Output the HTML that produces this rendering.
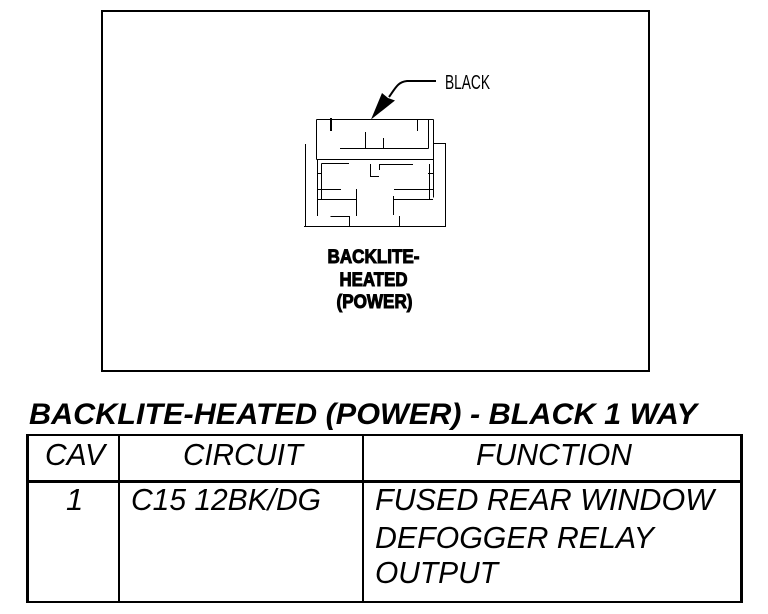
<!DOCTYPE html>
<html>
<head>
<meta charset="utf-8">
<style>
html,body{margin:0;padding:0;background:#fff;width:768px;height:614px;overflow:hidden}
svg{display:block}
text{font-family:"Liberation Sans",sans-serif;fill:#000}
.t{font-style:italic;font-size:31px}
.l{font-weight:bold;font-size:19px;stroke:#000;stroke-width:1}
</style>
</head>
<body>
<svg width="768" height="614" viewBox="0 0 768 614" xmlns="http://www.w3.org/2000/svg">
<rect width="768" height="614" fill="#fff"/>
<rect x="102" y="11" width="547" height="360" fill="none" stroke="#000" stroke-width="2" shape-rendering="crispEdges"/>

<g fill="none" stroke="#000" stroke-width="1" shape-rendering="crispEdges">
<path d="M316.5 119.5H433.5M316.5 119.5V159.5M433.5 119.5V197.5M316.5 159.5H433.5"/>
<path d="M417.5 119V131M428.5 119V148.5M340 148.5H428.5M365.5 132V148.5M383.5 138V148.5"/>
<path d="M433 143.5H445.5V226.5M305.5 144V226.5M304 226.5H446"/>
<path d="M349.5 216V226M330.5 216.5H349.5M399.5 216V226"/>
<path d="M321.5 163.5V199M321.5 163.5H349M317.5 159V216M317 173.5H321M317 189.5H341M317 199.5H356.5M356.5 189V216"/>
<path d="M370.5 164V176.5H379M379.5 170V164.5H413"/>
<path d="M429.5 164V199M428 173.5H433M394 189.5H433M393.5 196V215M393.5 199.5H433"/>
</g>
<rect x="330" y="118" width="2" height="13" fill="#000" shape-rendering="crispEdges"/>

<path d="M371 119.5L382 93L388 98L395 100.5Z" fill="#000"/>
<path d="M436 81H407C398 82 396 87 389 97" fill="none" stroke="#000" stroke-width="2"/>
<text x="445" y="89" font-size="20" textLength="45" lengthAdjust="spacingAndGlyphs">BLACK</text>

<text class="l" x="327.5" y="263" textLength="92" lengthAdjust="spacingAndGlyphs">BACKLITE-</text>
<text class="l" x="339.5" y="286" textLength="68" lengthAdjust="spacingAndGlyphs">HEATED</text>
<text class="l" x="336.5" y="308" textLength="76" lengthAdjust="spacingAndGlyphs">(POWER)</text>

<text x="29" y="424" font-size="30" font-weight="bold" font-style="italic" textLength="668" lengthAdjust="spacingAndGlyphs">BACKLITE-HEATED (POWER) - BLACK 1 WAY</text>

<g fill="#000" shape-rendering="crispEdges">
<rect x="26" y="434" width="716" height="2"/>
<rect x="26" y="480" width="716" height="3"/>
<rect x="26" y="601" width="716" height="2"/>
<rect x="26" y="434" width="3" height="169"/>
<rect x="118" y="434" width="2" height="169"/>
<rect x="362" y="434" width="2" height="169"/>
<rect x="740" y="434" width="3" height="169"/>
</g>

<text class="t" x="45" y="465" textLength="60" lengthAdjust="spacingAndGlyphs">CAV</text>
<text class="t" x="183" y="465" textLength="120" lengthAdjust="spacingAndGlyphs">CIRCUIT</text>
<text class="t" x="476" y="465" textLength="156" lengthAdjust="spacingAndGlyphs">FUNCTION</text>
<text class="t" x="66" y="510">1</text>
<text class="t" x="131" y="510" textLength="190" lengthAdjust="spacingAndGlyphs">C15 12BK/DG</text>
<text class="t" x="375" y="510" textLength="339" lengthAdjust="spacingAndGlyphs">FUSED REAR WINDOW</text>
<text class="t" x="375" y="548" textLength="279" lengthAdjust="spacingAndGlyphs">DEFOGGER RELAY</text>
<text class="t" x="375" y="583" textLength="123" lengthAdjust="spacingAndGlyphs">OUTPUT</text>
</svg>
</body>
</html>
